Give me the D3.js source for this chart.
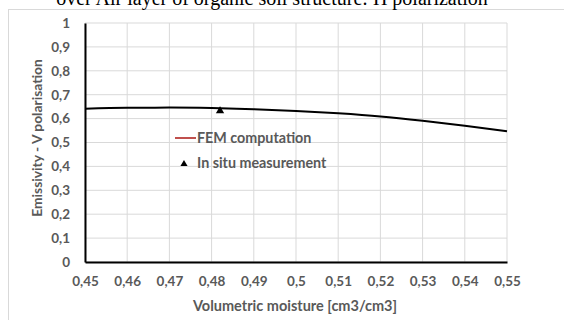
<!DOCTYPE html>
<html>
<head>
<meta charset="utf-8">
<script src="https://cdn.jsdelivr.net/npm/d3@7"></script>
<style>
  body { margin: 0; background: #fff; }
  svg { display: block; }
  .tick text { font-family: Lato, "Open Sans", sans-serif; font-weight: bold; font-size: 13.5px; fill: #595959; }
</style>
</head>
<body>
<div id="chart"></div>
<script>
// FEM computation curve
const moisture = [0.45, 0.46, 0.47, 0.48, 0.49, 0.50, 0.51, 0.52, 0.53, 0.54, 0.55];
const emissivity = [0.641, 0.645, 0.646, 0.644, 0.639, 0.632, 0.622, 0.609, 0.591, 0.570, 0.547];
// in situ point
const measuredX = [0.482];
const measuredY = [0.632];
const xTicks = [0.45, 0.46, 0.47, 0.48, 0.49, 0.5, 0.51, 0.52, 0.53, 0.54, 0.55];
const yTicks = [0, 0.1, 0.2, 0.3, 0.4, 0.5, 0.6, 0.7, 0.8, 0.9, 1];

const width = 564, height = 320;
const margin = { left: 85, right: 57, top: 23, bottom: 58 };

const svg = d3.select('#chart').append('svg').attr('width', width).attr('height', height);

// chart frame
svg.append('rect').attr('x', 8.5).attr('y', 9.5).attr('width', 570).attr('height', 330)
  .attr('fill', 'none').attr('stroke', '#d9d9d9');

// title, cut off at top like the source image
svg.append('text').attr('x', 272).attr('y', 5).attr('text-anchor', 'middle')
  .style('font-family', '"Liberation Serif", "Times New Roman", serif').style('font-size', '20px')
  .text('over Air layer of organic soil structure: H polarization');

const x = d3.scaleLinear().domain([0.45, 0.55]).range([margin.left, width - margin.right]);
const y = d3.scaleLinear().domain([0, 1]).range([height - margin.bottom, margin.top]);
const fmt = d => String(+d.toFixed(2)).replace('.', ',');

// grid
svg.append('g').selectAll('line').data(xTicks).enter().append('line')
  .attr('x1', d => x(d)).attr('x2', d => x(d)).attr('y1', y(0)).attr('y2', y(1))
  .attr('stroke', '#d9d9d9');
svg.append('g').selectAll('line').data(yTicks).enter().append('line')
  .attr('x1', x(0.45)).attr('x2', x(0.55)).attr('y1', d => y(d)).attr('y2', d => y(d))
  .attr('stroke', '#d9d9d9');

// axes
const xAxis = svg.append('g').attr('transform', `translate(0,${y(0)})`)
  .call(d3.axisBottom(x).tickValues(xTicks).tickFormat(fmt).tickSize(0).tickPadding(14));
xAxis.select('.domain').attr('stroke', '#000').attr('stroke-width', 2);

const yAxis = svg.append('g').attr('transform', `translate(${x(0.45)},0)`)
  .call(d3.axisLeft(y).tickValues(yTicks).tickFormat(fmt).tickSize(0).tickPadding(15));
yAxis.select('.domain').attr('stroke', '#000').attr('stroke-width', 2);

// axis titles
svg.append('text').attr('x', 295).attr('y', 311).attr('text-anchor', 'middle')
  .style('font-family', 'Lato, sans-serif').style('font-weight', 'bold').style('font-size', '14.5px')
  .attr('fill', '#595959').text('Volumetric moisture [cm3/cm3]');
svg.append('text').attr('transform', 'translate(42,138) rotate(-90)').attr('text-anchor', 'middle')
  .style('font-family', 'Lato, sans-serif').style('font-weight', 'bold').style('font-size', '13.8px')
  .attr('fill', '#595959').text('Emissivity - V polarisation');

// curve
const line = d3.line().x((d, i) => x(moisture[i])).y(d => y(d)).curve(d3.curveMonotoneX);
svg.append('path').datum(emissivity).attr('d', line)
  .attr('fill', 'none').attr('stroke', '#000').attr('stroke-width', 2);

// measurement
const tri = d3.symbol().type(d3.symbolTriangle).size(30);
svg.append('g').selectAll('path').data(measuredY).enter().append('path')
  .attr('d', tri).attr('transform', (d, i) => `translate(${x(measuredX[i])},${y(d)})`).attr('fill', '#000');

// legend
const lg = svg.append('g').style('font-family', 'Lato, sans-serif').style('font-weight', 'bold')
  .style('font-size', '14.3px').attr('fill', '#595959');
lg.append('line').attr('x1', 175).attr('x2', 196).attr('y1', 138).attr('y2', 138)
  .attr('stroke', '#c0504d').attr('stroke-width', 2);
lg.append('text').attr('x', 197).attr('y', 143).text('FEM computation');
lg.append('path').attr('d', d3.symbol().type(d3.symbolTriangle).size(22))
  .attr('transform', 'translate(184,164)').attr('fill', '#000');
lg.append('text').attr('x', 197).attr('y', 168).text('In situ measurement');
</script>
</body>
</html>
